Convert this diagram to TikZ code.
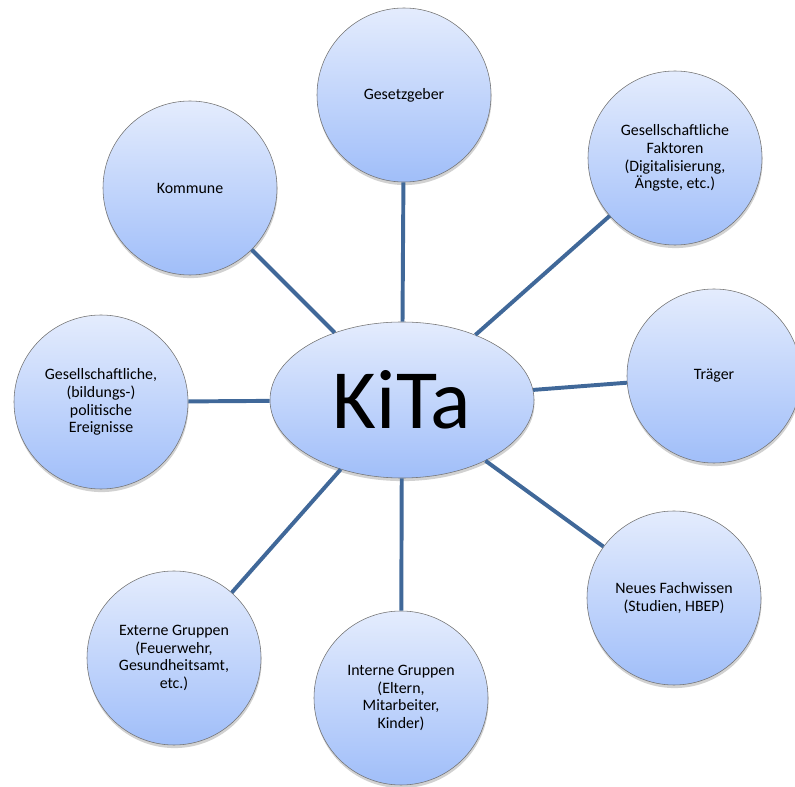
\documentclass[tikz,border=0pt]{standalone}
\usepackage{fontspec}
\setmainfont{Carlito}
\usetikzlibrary{shapes.geometric,shadows}
\definecolor{kreisoben}{RGB}{228,236,253}
\definecolor{kreisunten}{RGB}{160,190,249}
\definecolor{linienblau}{RGB}{64,104,153}
\begin{document}
\begin{tikzpicture}[
        kreis/.style={circle, draw=gray!90!black, thin, top color=kreisoben, bottom color=kreisunten,
            minimum size=4.35cm, inner sep=0pt, align=center,
            font=\fontsize{11.3pt}{12.6pt}\selectfont,
            drop shadow={shadow xshift=0.4pt, shadow yshift=-2.2pt, opacity=.3, fill=black!60}},
        verbindung/.style={draw=linienblau, line width=2.8pt}]
        \useasboundingbox (0,0) rectangle (19.875,19.675);
        % Mitte
        \node[ellipse, draw=gray!90!black, thin, top color=kreisoben, bottom color=kreisunten,
            minimum width=6.6cm, minimum height=3.9cm, inner sep=0pt,
            font=\fontsize{60pt}{70pt}\selectfont,
            drop shadow={shadow xshift=0.4pt, shadow yshift=-2.2pt, opacity=.3, fill=black!60}] (kita) at (10.05,9.675) {KiTa};
        % Einflussfaktoren rundherum
        \node[kreis] (gesetz) at (10.1,17.3) {Gesetzgeber};
        \node[kreis] (faktoren) at (16.875,15.725) {Gesellschaftliche\\Faktoren\\(Digitalisierung,\\Ängste, etc.)};
        \node[kreis] (traeger) at (17.85,10.275) {Träger};
        \node[kreis] (fachwissen) at (16.85,4.725) {Neues Fachwissen\\(Studien, HBEP)};
        \node[kreis] (intern) at (10.025,2.225) {Interne Gruppen\\(Eltern,\\Mitarbeiter,\\Kinder)};
        \node[kreis] (extern) at (4.35,3.225) {Externe Gruppen\\(Feuerwehr,\\Gesundheitsamt,\\etc.)};
        \node[kreis] (politik) at (2.525,9.625) {Gesellschaftliche,\\(bildungs-)\\politische\\Ereignisse};
        \node[kreis] (kommune) at (4.75,14.975) {Kommune};
        \foreach \n in {gesetz,faktoren,traeger,fachwissen,intern,extern,politik,kommune}
            \draw[verbindung] (kita) -- (\n);
\end{tikzpicture}
\end{document}
